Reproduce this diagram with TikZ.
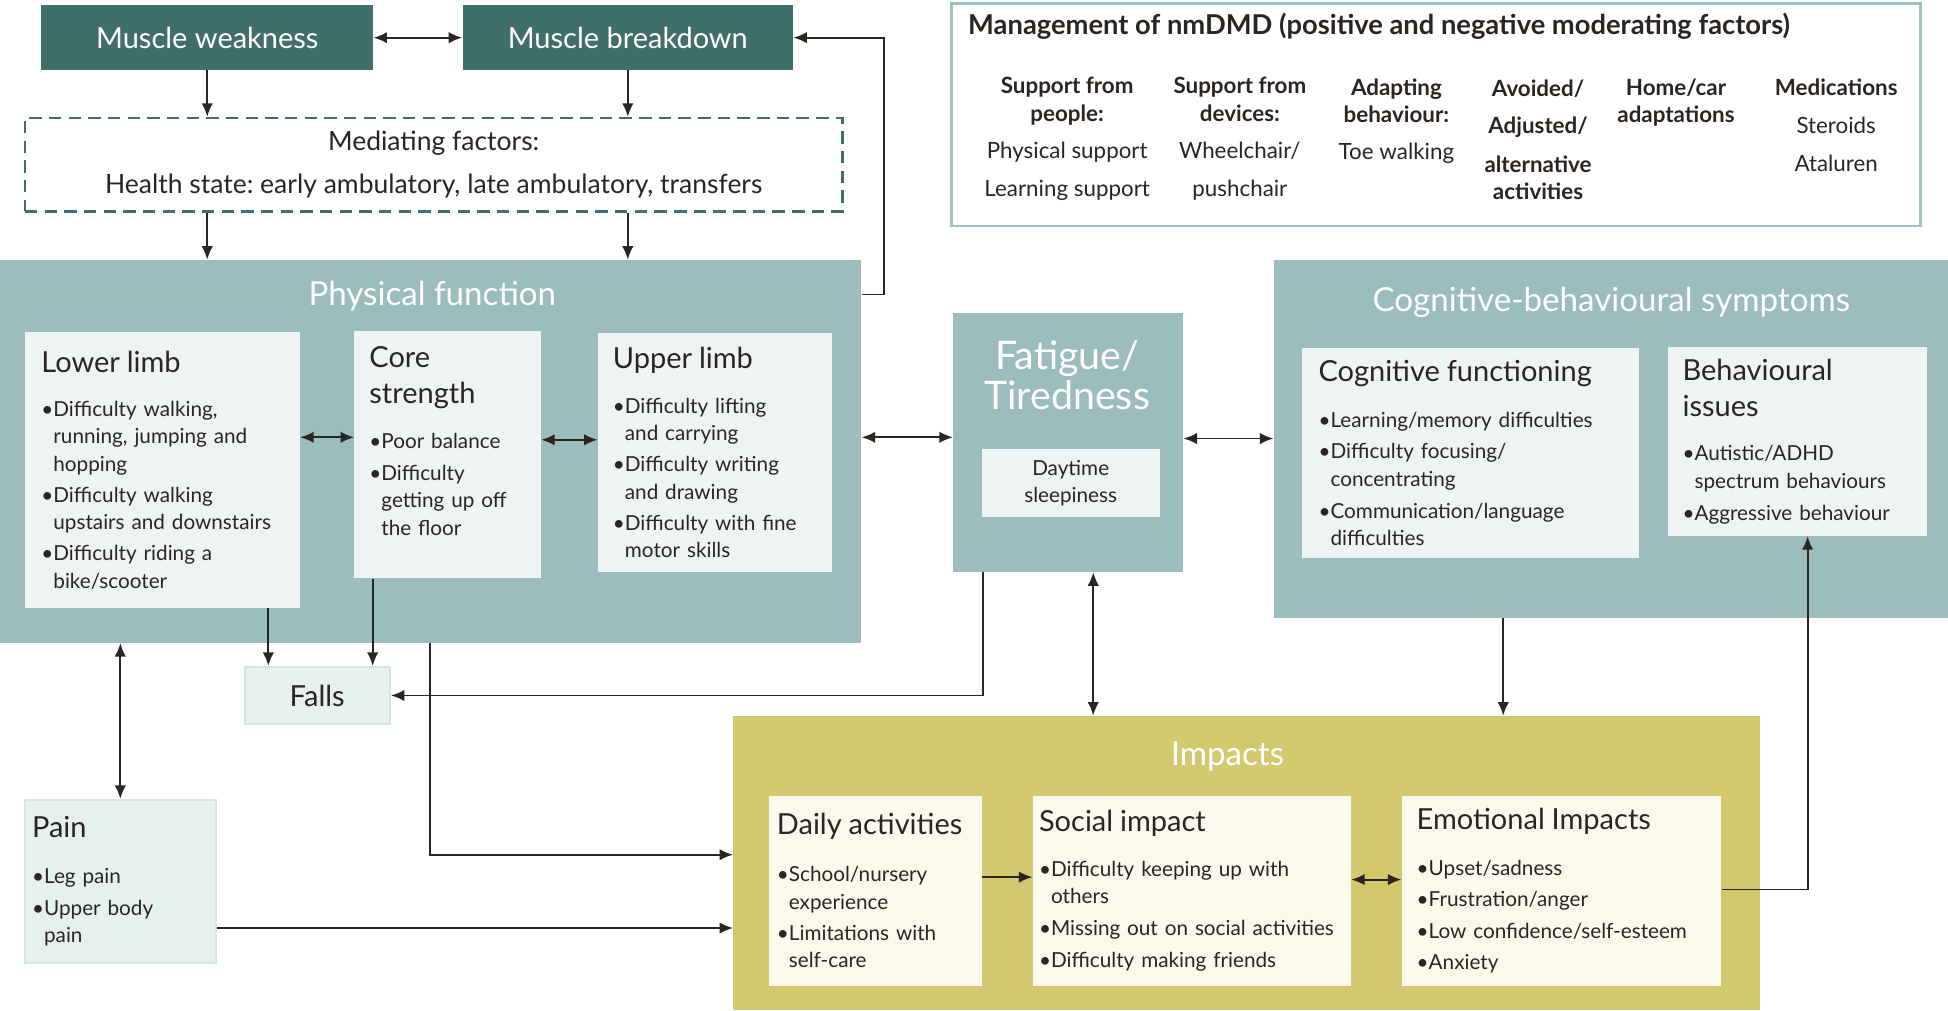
\documentclass[tikz,border=0pt]{standalone}
\usepackage{fontspec}
\setmainfont{Lato}
\usetikzlibrary{arrows.meta}
\frenchspacing

\definecolor{ink}{HTML}{2B2522}
\definecolor{darkteal}{HTML}{3F6E6B}
\definecolor{panelteal}{HTML}{9BBDBD}
\definecolor{cardfill}{HTML}{EEF4F3}
\definecolor{paleteal}{HTML}{E6F0EF}
\definecolor{paleedge}{HTML}{D4E5E4}
\definecolor{olive}{HTML}{D2C86D}
\definecolor{cream}{HTML}{FBF9EB}
\definecolor{mgmtline}{HTML}{9CC3C3}

\newcommand{\cardtitle}[1]{{\fontsize{14}{16}\selectfont #1}}
\newcommand{\bulind}{\hphantom{\textbullet}}

\tikzset{
	area/.style 2 args={anchor=north west, minimum width=#1*0.6pt, minimum height=#2*0.6pt},
	muscle/.style={fill=darkteal, text=white, inner sep=0pt, font=\fontsize{14}{16}\selectfont},
	panel/.style={fill=panelteal, inner sep=0pt},
	paneltitle/.style={text=white, inner sep=0pt, align=center, font=\fontsize{16}{18}\selectfont},
	card/.style={fill=cardfill, inner sep=0pt, align=left, text=ink, font=\fontsize{10}{13.2}\selectfont},
	impactcard/.style={card, fill=cream},
	side/.style={card, fill=paleteal, draw=paleedge, line width=1pt},
	mgmt/.style={inner sep=0pt, align=center, text=ink, font=\fontsize{10.8}{13.2}\selectfont},
	conn/.style={ink, line width=0.9pt, -{Latex[length=6.5pt,width=5.5pt]}},
	biconn/.style={ink, line width=0.9pt, {Latex[length=6.5pt,width=5.5pt]}-{Latex[length=6.5pt,width=5.5pt]}},
}

\begin{document}
\begin{tikzpicture}[x=0.6pt, y=-0.6pt]
	\path[use as bounding box, fill=white] (0,0) rectangle (1568,813);

	\node[muscle, area={267}{52}] (weak) at (33,4) {Muscle weakness};
	\node[muscle, area={266}{52}] (breakdown) at (372,4) {Muscle breakdown};
	\node[area={658}{75}, draw=darkteal, dash pattern=on 6pt off 3.5pt, line width=1.3pt, inner sep=0pt,
		align=center, text=ink, font=\fontsize{12.8}{13.2}\selectfont] (mediating) at (19,94)
		{Mediating factors:\\[7.8pt]Health state: early ambulatory, late ambulatory, transfers};

	\node[area={780}{179}, draw=mgmtline, line width=1.2pt, fill=white, inner sep=0pt] (management) at (765,2) {};
	\node[anchor=west, inner sep=0pt, text=ink, font=\bfseries\fontsize{13.2}{14}\selectfont] (mgmttitle) at (779,21)
		{Management of nmDMD (positive and negative moderating factors)};
	\node[mgmt, anchor=north] (people) at (859,62) {\textbf{Support from}\\\textbf{people:}\\[4.8pt]Physical support\\[5.4pt]Learning support};
	\node[mgmt, anchor=north] (devices) at (998,62) {\textbf{Support from}\\\textbf{devices:}\\[4.8pt]Wheelchair/\\[5.4pt]pushchair};
	\node[mgmt, anchor=north] (adapting) at (1124,63) {\textbf{Adapting}\\\textbf{behaviour:}\\[4.8pt]Toe walking};
	\node[mgmt, anchor=north] (avoided) at (1238,64) {\textbf{Avoided/}\\[4.8pt]\textbf{Adjusted/}\\[5.4pt]\textbf{alternative}\\\textbf{activities}};
	\node[mgmt, anchor=north] (homecar) at (1349,63) {\textbf{Home/car}\\\textbf{adaptations}};
	\node[mgmt, anchor=north] (medications) at (1478,63) {\textbf{Medications}\\[5.4pt]Steroids\\[4.8pt]Ataluren};

	\node[panel, area={693}{308}] (physical) at (0,209) {};
	\node[paneltitle] (physicaltitle) at (348,238) {Physical function};
	\node[card, area={221}{222}, text width=117pt] (lower) at (20,267)
		{\cardtitle{Lower limb}\\[8.2pt]
		\textbullet Difficulty walking,\\
		\bulind running, jumping and\\
		\bulind hopping\\[1.8pt]
		\textbullet Difficulty walking\\
		\bulind upstairs and downstairs\\[1.8pt]
		\textbullet Difficulty riding a\\
		\bulind bike/scooter};
	\node[card, area={150}{199}, text width=75.6pt] (core) at (285,266)
		{\cardtitle{Core}\\[4.2pt]
		\cardtitle{strength}\\[8.4pt]
		\textbullet Poor balance\\[2.4pt]
		\textbullet Difficulty\\
		\bulind getting up off\\
		\bulind the floor\\
		\mbox{}};
	\node[card, area={188}{192}, text width=98.4pt] (upper) at (481,268)
		{\cardtitle{Upper limb}\\[8.4pt]
		\textbullet Difficulty lifting\\
		\bulind and carrying\\[1.8pt]
		\textbullet Difficulty writing\\
		\bulind and drawing\\[1.8pt]
		\textbullet Difficulty with fine\\
		\bulind motor skills};

	\node[panel, area={185}{208}] (fatigue) at (767,252) {};
	\node[paneltitle, font=\fontsize{19}{19.2}\selectfont] (fatiguetitle) at (859,302) {Fatigue/\\Tiredness};
	\node[card, area={143}{55}, align=center] (sleepiness) at (790,361) {Daytime\\sleepiness};

	\node[panel, area={543}{288}] (cogsym) at (1025,209) {};
	\node[paneltitle] (cogsymtitle) at (1297,243) {Cognitive-behavioural symptoms};
	\node[card, area={271}{169}, text width=147pt] (cogfun) at (1048,280)
		{\cardtitle{Cognitive functioning}\\[9pt]
		\textbullet Learning/memory difficulties\\[1.8pt]
		\textbullet Difficulty focusing/\\
		\bulind concentrating\\[2.4pt]
		\textbullet Communication/language\\
		\bulind difficulties};
	\node[card, area={209}{152}, text width=111pt] (behav) at (1342,279)
		{\cardtitle{Behavioural}\\[4.2pt]
		\cardtitle{issues}\\[8.4pt]
		\textbullet Autistic/ADHD\\
		\bulind spectrum behaviours\\[2.4pt]
		\textbullet Aggressive behaviour};

	\node[side, area={117}{46}, align=center, font=\fontsize{14}{16}\selectfont] (falls) at (196,536) {Falls};
	\node[side, area={154}{131}, text width=85.2pt] (pain) at (19,643)
		{\cardtitle{Pain}\\[9pt]
		\textbullet Leg pain\\[2.4pt]
		\textbullet Upper body\\
		\bulind pain};

	\node[area={826}{237}, fill=olive, inner sep=0pt] (impacts) at (590,576) {};
	\node[paneltitle] (impactstitle) at (988,609) {Impacts};
	\node[impactcard, area={171}{153}, text width=95.4pt] (daily) at (619,640)
		{\cardtitle{Daily activities}\\[9.6pt]
		\textbullet School/nursery\\
		\bulind experience\\[1.8pt]
		\textbullet Limitations with\\
		\bulind self-care};
	\node[impactcard, area={256}{153}, text width=147.6pt] (social) at (831,640)
		{\cardtitle{Social impact}\\[8.4pt]
		\textbullet Difficulty keeping up with\\
		\bulind others\\[2.4pt]
		\textbullet Missing out on social activities\\[1.8pt]
		\textbullet Difficulty making friends};
	\node[impactcard, area={257}{153}, text width=139.8pt] (emotional) at (1128,640)
		{\cardtitle{Emotional Impacts}\\[9pt]
		\textbullet Upset/sadness\\[1.8pt]
		\textbullet Frustration/anger\\[2.4pt]
		\textbullet Low confidence/self-esteem\\[1.8pt]
		\textbullet Anxiety};

	\draw[biconn] (weak) -- (breakdown);
	\draw[conn] (weak.south) -- (weak.south |- mediating.north);
	\draw[conn] (breakdown.south) -- (breakdown.south |- mediating.north);
	\draw[conn] (weak.south |- mediating.south) -- (weak.south |- physical.north);
	\draw[conn] (breakdown.south |- mediating.south) -- (breakdown.south |- physical.north);
	\draw[conn] (physical.north east |- 0,237) -- ++(18,0) |- (breakdown.east);
	\draw[biconn] (lower.east |- 0,352) -- (core.west |- 0,352);
	\draw[biconn] (core.east |- 0,354) -- (upper.west |- 0,354);
	\draw[biconn] (physical.east |- 0,352) -- (fatigue.west |- 0,352);
	\draw[biconn] (fatigue.east |- 0,353) -- (cogsym.west |- 0,353);
	\draw[conn] (lower.south -| 216,0) -- (falls.north -| 216,0);
	\draw[conn] (core.south -| 300,0) -- (falls.north -| 300,0);
	\draw[conn] (fatigue.south -| 791,0) |- (falls.east);
	\draw[biconn] (physical.south -| pain.north) -- (pain.north);
	\draw[conn] (physical.south -| 346,0) |- (impacts.west |- 0,688);
	\draw[conn] (pain.east |- 0,747) -- (impacts.west |- 0,747);
	\draw[biconn] (fatigue.south -| 880,0) -- (impacts.north -| 880,0);
	\draw[conn] (cogsym.south -| 1210,0) -- (impacts.north -| 1210,0);
	\draw[conn] (daily.east |- 0,706) -- (social.west |- 0,706);
	\draw[biconn] (social.east |- 0,708) -- (emotional.west |- 0,708);
	\draw[conn] (emotional.east |- 0,716) -| (behav.south -| 1455,0);
\end{tikzpicture}
\end{document}
